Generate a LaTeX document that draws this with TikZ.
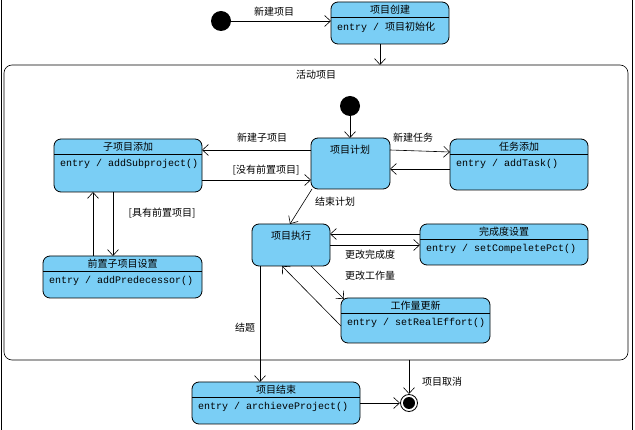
\documentclass[tikz,border=0pt]{standalone}
\usepackage{fontspec}
\setmainfont{Liberation Serif}
\setmonofont{Liberation Mono}
\newfontfamily\cjk{Noto Sans CJK SC}
\usetikzlibrary{arrows.meta}
\definecolor{stfill}{RGB}{122,206,245}
\tikzset{
	state/.style={draw,thick,fill=stfill,rounded corners=7pt},
	tr/.style={-{Straight Barb[length=6pt,width=11pt]},semithick},
	lbl/.style={font=\cjk\fontsize{10}{12}\selectfont,inner sep=1pt},
	act/.style={font=\ttfamily\fontsize{10}{12}\selectfont,inner sep=1pt}
}
\newcommand{\cn}[1]{{\cjk #1}}
\begin{document}
\begin{tikzpicture}[x=1pt,y=-1pt]
	\useasboundingbox (0,0) rectangle (635,430);
	% page border
	\draw[semithick] (1,0) -- (1,430);
	\draw[semithick] (632,0) -- (632,430);
	% composite state
	\draw[semithick,rounded corners=8pt] (4,65) rectangle (628,360);
	\node[lbl] (act) at (316,75) {活动项目};
	\coordinate (actTop) at (380,65);
	\coordinate (actBot) at (409,360);
	% initial states
	\fill (221,21) circle (10) coordinate (init);
	\fill (350,106) circle (10) coordinate (init2);
	% simple states with entry action
	\foreach \name/\xa/\ya/\xb/\yb/\title/\entry in {
		create/331/2/449/44/项目创建/\cn{项目初始化},
		sub/54/139/202/192/子项目添加/addSubproject(),
		task/450/139/588/190/任务添加/addTask(),
		pred/43/256/202/298/前置子项目设置/addPredecessor(),
		pct/420/224/588/265/完成度设置/setCompeletePct(),
		eff/341/298/490/343/工作量更新/setRealEffort(),
		done/192/382/360/424/项目结束/archieveProject()}
	{
		\draw[state] (\xa,\ya) rectangle (\xb,\yb);
		\draw[thick] (\xa,\ya+15) -- (\xb,\ya+15);
		\node[lbl] at ({(\xa+\xb)/2},\ya+8) {\title};
		\node[act,anchor=west] at (\xa+5,\ya+25) {entry / \entry};
	}
	% plain states
	\draw[state] (311,138) rectangle (390,189);
	\node[lbl] at (350,150) {项目计划};
	\draw[state] (252,224) rectangle (330,266);
	\node[lbl] at (291,236) {项目执行};
	% final state
	\draw[thick,fill=white] (409,403) circle (8.5);
	\fill (409,403) circle (6);
	% transitions
	\draw[tr] (231,21) -- (331,21);
	\node[lbl] at (274,12) {新建项目};
	\draw[tr] (380,44) -- (actTop);
	\draw[tr] (350,116) -- (350,138);
	\draw[tr] (311,150) -- (202,150);
	\node[lbl] at (262,138) {新建子项目};
	\draw[tr] (202,180) -- (311,180);
	\node[lbl] at (266,170) {[没有前置项目]};
	\draw[tr] (390,150) -- (450,152);
	\node[lbl] at (413,138) {新建任务};
	\draw[tr] (450,169) -- (390,169);
	\draw[tr] (113,192) -- (113,256);
	\node[lbl] at (162,213) {[具有前置项目]};
	\draw[tr] (93,256) -- (93,192);
	\draw[tr] (312,189) -- (290,224);
	\node[lbl] at (335,202) {结束计划};
	\draw[tr] (420,234) -- (330,234);
	\draw[tr] (330,245) -- (420,245);
	\node[lbl] at (370,255) {更改完成度};
	\draw[tr] (311,266) -- (344,299);
	\node[lbl] at (370,276) {更改工作量};
	\draw[tr] (341,326) -- (282,266);
	\draw[tr] (260,266) -- (260,382);
	\node[lbl] at (245,328) {结题};
	\draw[tr] (actBot) -- (409,394);
	\node[lbl] at (442,382) {项目取消};
	\draw[tr] (360,403) -- (400,403);
\end{tikzpicture}
\end{document}
